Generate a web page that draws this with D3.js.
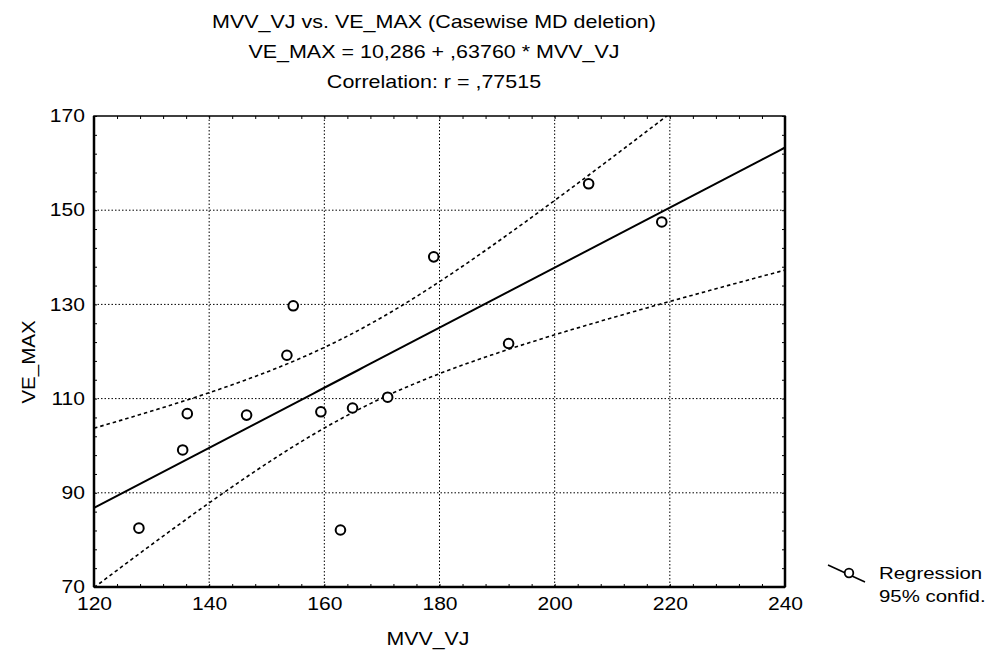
<!DOCTYPE html>
<html>
<head>
<meta charset="utf-8">
<script src="https://cdn.jsdelivr.net/npm/d3@7"></script>
<style>
  body { margin: 0; background: #fff; }
  svg { font-family: "Liberation Sans", Arial, sans-serif; }
</style>
</head>
<body>
<svg id="chart" width="990" height="656"></svg>
<script>
const mvvVj = [127.8, 135.4, 136.2, 146.5, 153.5, 154.6, 159.4, 162.8, 164.9, 171.0, 179.0, 192.0, 205.9, 218.6];
const veMax = [82.5, 99.1, 106.8, 106.5, 119.2, 129.7, 107.2, 82.1, 108.0, 110.3, 140.1, 121.7, 155.6, 147.5];

// regression reported in the title
const intercept = 10.286;
const slope = 0.63760;
const tCrit = 2.179; // t(0.975, df = 12)

const xTicks = [120, 140, 160, 180, 200, 220, 240];
const yTicks = [70, 90, 110, 130, 150, 170];

const titleLines = [
  "MVV_VJ vs. VE_MAX (Casewise MD deletion)",
  "VE_MAX = 10,286 + ,63760 * MVV_VJ",
  "Correlation: r = ,77515"
];
const legendLines = ["Regression", "95% confid."];

const svg = d3.select("#chart");
const plot = { left: 94, right: 785, top: 116, bottom: 587 };

const x = d3.scaleLinear().domain([120, 240]).range([plot.left, plot.right]);
const y = d3.scaleLinear().domain([70, 170]).range([plot.bottom, plot.top]);

// the original print is a bit wider than Arial, stretch the glyphs a little
function widen(sel, k) {
  sel.each(function () {
    const w = this.getComputedTextLength();
    d3.select(this)
      .attr("textLength", w * k)
      .attr("lengthAdjust", "spacingAndGlyphs");
  });
}

// ---------- title ----------
svg.selectAll("text.title")
  .data(titleLines)
  .join("text")
  .attr("class", "title")
  .attr("x", 434)
  .attr("y", (d, i) => 28 + i * 30)
  .attr("text-anchor", "middle")
  .style("font-size", "19px")
  .text(d => d)
  .call(widen, 1.13);

// ---------- grid ----------
const grid = svg.append("g");
grid.selectAll("line.vgrid")
  .data(xTicks.slice(1, -1))
  .join("line")
  .attr("x1", d => x(d)).attr("x2", d => x(d))
  .attr("y1", plot.top).attr("y2", plot.bottom)
  .attr("stroke", "#000").attr("stroke-width", 1)
  .attr("stroke-dasharray", "1.5,2");
grid.selectAll("line.hgrid")
  .data(yTicks.slice(1, -1))
  .join("line")
  .attr("x1", plot.left).attr("x2", plot.right)
  .attr("y1", d => y(d)).attr("y2", d => y(d))
  .attr("stroke", "#000").attr("stroke-width", 1)
  .attr("stroke-dasharray", "1.5,2");

// ---------- axes (labels + inward minor ticks on all sides) ----------
const xMinor = d3.range(120, 241, 4);
const yMinor = d3.range(70, 171, 4);

svg.append("g")
  .attr("transform", `translate(0,${plot.bottom})`)
  .call(d3.axisBottom(x).tickValues(xTicks).tickSize(0).tickPadding(10))
  .call(g => g.select(".domain").remove())
  .call(g => g.selectAll("text").style("font-size", "18px").attr("fill", "#000").call(widen, 1.17));

svg.append("g")
  .attr("transform", `translate(${plot.left},0)`)
  .call(d3.axisLeft(y).tickValues(yTicks).tickSize(0).tickPadding(9))
  .call(g => g.select(".domain").remove())
  .call(g => g.selectAll("text").style("font-size", "18px").attr("fill", "#000").call(widen, 1.17));

[[d3.axisTop(x), plot.bottom], [d3.axisBottom(x), plot.top]].forEach(([ax, pos]) => {
  svg.append("g")
    .attr("transform", `translate(0,${pos})`)
    .call(ax.tickValues(xMinor).tickSize(3).tickFormat(""))
    .call(g => g.select(".domain").remove());
});
[[d3.axisRight(y), plot.left], [d3.axisLeft(y), plot.right]].forEach(([ax, pos]) => {
  svg.append("g")
    .attr("transform", `translate(${pos},0)`)
    .call(ax.tickValues(yMinor).tickSize(3).tickFormat(""))
    .call(g => g.select(".domain").remove());
});

// frame
svg.append("rect")
  .attr("x", plot.left).attr("y", plot.top)
  .attr("width", plot.right - plot.left).attr("height", plot.bottom - plot.top)
  .attr("fill", "none").attr("stroke", "#000").attr("stroke-width", 1.5);
[[plot.left, plot.bottom, plot.right, plot.bottom],
 [plot.left, plot.top, plot.left, plot.bottom],
 [plot.right, plot.top, plot.right, plot.bottom]].forEach(([x1, y1, x2, y2]) => {
  svg.append("line")
    .attr("x1", x1).attr("y1", y1).attr("x2", x2).attr("y2", y2)
    .attr("stroke", "#000").attr("stroke-width", 2.5);
});

// axis titles
svg.append("text")
  .attr("x", 428).attr("y", 645)
  .attr("text-anchor", "middle")
  .style("font-size", "19px")
  .text("MVV_VJ")
  .call(widen, 1.12);
svg.append("text")
  .attr("transform", "translate(35,362) rotate(-90)")
  .attr("text-anchor", "middle")
  .style("font-size", "19px")
  .text("VE_MAX")
  .call(widen, 1.08);

// ---------- regression + 95% band ----------
const n = mvvVj.length;
const meanX = d3.mean(mvvVj);
const sxx = d3.sum(mvvVj, v => (v - meanX) ** 2);
const sse = d3.sum(mvvVj, (v, i) => (veMax[i] - (intercept + slope * v)) ** 2);
const s = Math.sqrt(sse / (n - 2));
const halfWidth = v => tCrit * s * Math.sqrt(1 / n + (v - meanX) ** 2 / sxx);

const xs = d3.range(120, 240.01, 1);

svg.append("clipPath").attr("id", "clip")
  .append("rect")
  .attr("x", plot.left).attr("y", plot.top)
  .attr("width", plot.right - plot.left).attr("height", plot.bottom - plot.top);

const lines = svg.append("g").attr("clip-path", "url(#clip)");
const lineGen = f => d3.line().x(v => x(v)).y(v => y(f(v)))(xs);

lines.append("path")
  .attr("d", lineGen(v => intercept + slope * v))
  .attr("fill", "none").attr("stroke", "#000").attr("stroke-width", 2);

[1, -1].forEach(sign => {
  lines.append("path")
    .attr("d", lineGen(v => intercept + slope * v + sign * halfWidth(v)))
    .attr("fill", "none").attr("stroke", "#000").attr("stroke-width", 1.6)
    .attr("stroke-dasharray", "3.5,3");
});

// ---------- points ----------
svg.append("g")
  .selectAll("circle")
  .data(mvvVj.map((v, i) => [v, veMax[i]]))
  .join("circle")
  .attr("cx", d => x(d[0]))
  .attr("cy", d => y(d[1]))
  .attr("r", 4.8)
  .attr("fill", "#fff")
  .attr("stroke", "#000")
  .attr("stroke-width", 2);

// ---------- legend ----------
const legend = svg.append("g");
legend.append("line")
  .attr("x1", 828).attr("y1", 565).attr("x2", 865).attr("y2", 582)
  .attr("stroke", "#000").attr("stroke-width", 1.6);
legend.append("circle")
  .attr("cx", 849).attr("cy", 573).attr("r", 4.3)
  .attr("fill", "#fff").attr("stroke", "#000").attr("stroke-width", 1.8);
legend.selectAll("text")
  .data(legendLines)
  .join("text")
  .attr("x", 879)
  .attr("y", (d, i) => 579 + i * 23)
  .style("font-size", "17px")
  .text(d => d)
  .call(widen, 1.2);
</script>
</body>
</html>
